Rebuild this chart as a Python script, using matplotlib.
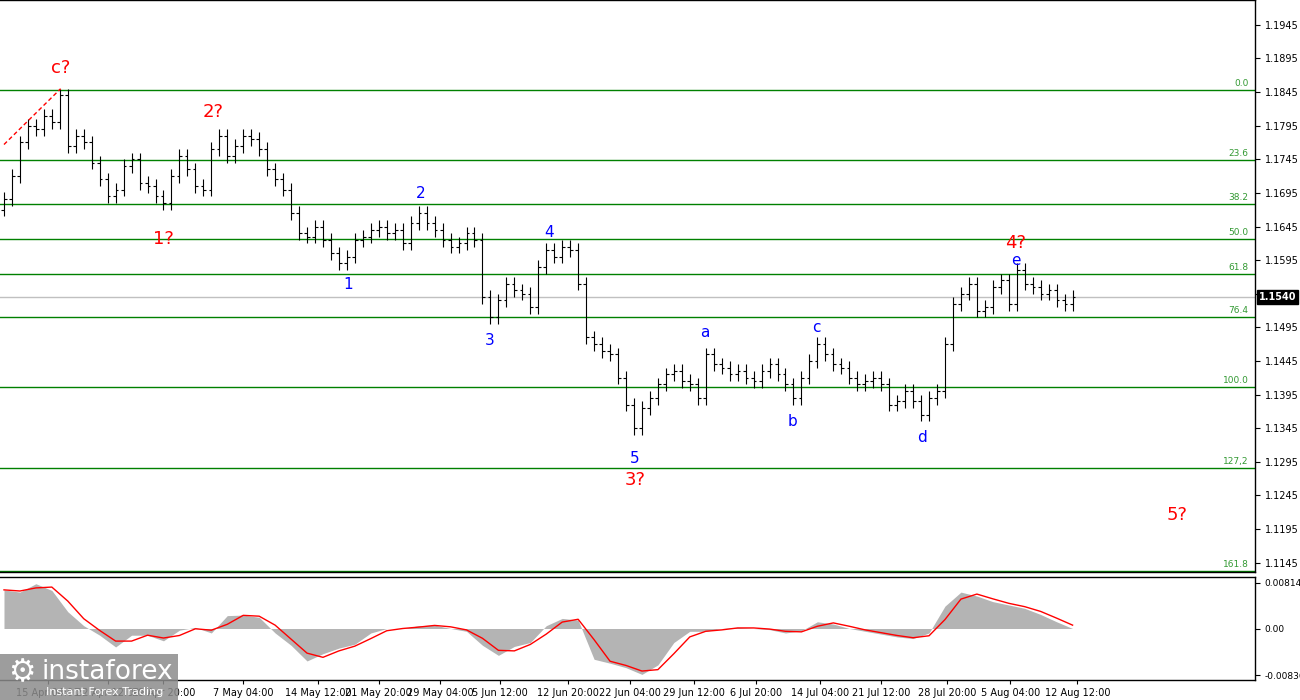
import matplotlib
matplotlib.use("Agg")
import matplotlib.pyplot as plt
import numpy as np
import pandas as pd

closes = [1.1686,1.1720,1.1770,1.1795,1.1790,1.1810,1.1800,1.1840,1.1765,1.1780,1.1770,1.1740,1.1715,1.1690,1.1700,1.1735,
1.1745,1.1710,1.1705,1.1690,1.1680,1.1720,1.1750,1.1730,1.1705,1.1700,1.1760,1.1780,1.1750,1.1765,1.1780,1.1775,
1.1760,1.1730,1.1715,1.1700,1.1665,1.1635,1.1630,1.1645,1.1625,1.1605,1.1590,1.1600,1.1625,1.1630,1.1640,1.1645,
1.1635,1.1640,1.1620,1.1650,1.1665,1.1650,1.1640,1.1625,1.1615,1.1620,1.1635,1.1625,1.1540,1.1510,1.1535,1.1560,
1.1550,1.1545,1.1525,1.1585,1.1610,1.1600,1.1615,1.1610,1.1560,1.1480,1.1470,1.1460,1.1455,1.1420,1.1380,1.1345,
1.1375,1.1390,1.1410,1.1425,1.1430,1.1415,1.1410,1.1390,1.1455,1.1440,1.1435,1.1425,1.1430,1.1420,1.1415,1.1430,
1.1440,1.1425,1.1410,1.1390,1.1420,1.1445,1.1470,1.1455,1.1440,1.1435,1.1420,1.1410,1.1415,1.1420,1.1410,1.1380,
1.1385,1.1400,1.1385,1.1365,1.1390,1.1400,1.1470,1.1530,1.1545,1.1560,1.1520,1.1525,1.1555,1.1565,1.1530,1.1580,
1.1560,1.1555,1.1545,1.1550,1.1535,1.1530,1.1540]
opens = [1.1670] + closes[:-1]
wick = 0.0010

hist = [0.0069,0.0065,0.0080,0.0068,0.0030,0.0005,-0.0012,-0.0033,-0.0012,-0.0012,-0.0022,-0.0003,0.0002,-0.0008,0.0023,0.0024,
0.0020,-0.0008,-0.0030,-0.0058,-0.0045,-0.0035,-0.0028,-0.0008,0.0000,0.0000,0.0005,0.0006,0.0000,-0.0005,-0.0030,-0.0048,
-0.0032,-0.0025,0.0005,0.0018,0.0015,-0.0055,-0.0062,-0.0070,-0.0082,-0.0065,-0.0025,-0.0005,-0.0005,0.0000,0.0002,0.0000,
-0.0002,-0.0008,-0.0004,0.0012,0.0008,0.0000,-0.0005,-0.0010,-0.0015,-0.0018,-0.0008,0.0040,0.0065,0.0058,0.0048,0.0042,
0.0036,0.0025,0.0012,0.0000]

fib_levels = ["0.0","23.6","38.2","50.0","61.8","76.4","100.0","127,2","161.8"]
fib_ratios = [0.0,0.236,0.382,0.5,0.618,0.764,1.0,1.272,1.618]
fib_top, fib_bottom = 1.1848, 1.1406
current = 1.1540

price_ticks = [1.1945,1.1895,1.1845,1.1795,1.1745,1.1695,1.1645,1.1595,1.1545,1.1495,1.1445,1.1395,1.1345,1.1295,1.1245,1.1195,1.1145]
date_labels = ["15 Apr 04:00","22 Apr 12:00","29 Apr 20:00","7 May 04:00","14 May 12:00","21 May 20:00","29 May 04:00","5 Jun 12:00",
"12 Jun 20:00","22 Jun 04:00","29 Jun 12:00","6 Jul 20:00","14 Jul 04:00","21 Jul 12:00","28 Jul 20:00","5 Aug 04:00","12 Aug 12:00"]
date_pos = [5.5,13.0,20.0,30.0,39.4,47.0,54.7,62.2,70.7,78.5,86.5,94.3,102.3,110.0,118.3,126.2,134.6]

red_labels = [("c?",7.1,1.1881),("2?",26.2,1.1816),("1?",20.0,1.1626),("3?",79.2,1.1268),("4?",126.9,1.1620),("5?",147.1,1.1216)]
blue_labels = [("1",43.1,1.1559),("2",52.2,1.1694),("3",60.9,1.1475),("4",68.4,1.1636),("5",79.1,1.1300),
               ("a",87.9,1.1487),("b",98.9,1.1355),("c",101.9,1.1495),("d",115.1,1.1331),("e",126.9,1.1594)]

fig = plt.figure(figsize=(13,7), dpi=100)
W = 1255/1300
ax = fig.add_axes([0, 1-572/700, W, 572/700])
ax2 = fig.add_axes([0, 20/700, W, 103/700])
xmax = 1255/8

n = len(closes)
idx = np.arange(n)
o = np.array(opens); c = np.array(closes)
hi = np.maximum(o, c) + wick; lo = np.minimum(o, c) - wick
ax.vlines(idx, lo, hi, color="black", lw=0.8)
ax.hlines(o, idx-0.35, idx, color="black", lw=0.8)
ax.hlines(c, idx, idx+0.35, color="black", lw=0.8)

for lab, r in zip(fib_levels, fib_ratios):
    lvl = fib_top - r*(fib_top-fib_bottom)
    ax.axhline(lvl, color="#008000", lw=1.0, zorder=1)
    ax.text(xmax-0.8, lvl+0.0003, lab, color="#339933", fontsize=6.5, ha="right", va="bottom")
ax.axhline(current, color="#c0c0c0", lw=1.0, zorder=0)
ax.plot([0, 7.1], [1.1767, 1.1850], color="red", lw=1, ls=(0,(3,2)))

for t, x, y in red_labels:
    ax.text(x, y, t, color="red", fontsize=13, ha="center", va="center")
for t, x, y in blue_labels:
    ax.text(x, y, t, color="blue", fontsize=11, ha="center", va="center")

ax.set_xlim(-0.5, xmax)
ax.set_ylim(1.1131, 1.1982)
ax.yaxis.tick_right()
ax.set_yticks(price_ticks)
ax.set_yticklabels([f"{v:.4f}" for v in price_ticks], fontsize=7)
ax.set_xticks([])
ax.text(1.003, current, f"{current:.4f}", transform=ax.get_yaxis_transform(), fontsize=7,
        color="white", va="center", ha="left", fontweight="bold",
        bbox=dict(boxstyle="square,pad=0.2", fc="black", ec="black"), zorder=10)

hx = np.arange(len(hist)) * 2.0
hs = pd.Series(hist)
ax2.fill_between(hx, 0, hist, color="#b4b4b4", lw=0)
sig = hs.rolling(2, min_periods=1).mean()
ax2.plot(hx, sig, color="red", lw=1)
ax2.set_xlim(-0.5, xmax)
ax2.set_ylim(-0.0092, 0.0092)
ax2.yaxis.tick_right()
ax2.set_yticks([0.00814, 0.0, -0.00836])
ax2.set_yticklabels(["0.00814", "0.00", "-0.00836"], fontsize=6.5)
ax2.set_xticks(date_pos)
ax2.set_xticklabels(date_labels, fontsize=7)
ax2.tick_params(axis="x", length=3, pad=3)

for a in (ax, ax2):
    for s in a.spines.values():
        s.set_linewidth(1.0)
    a.spines["left"].set_visible(False)

fig.patches.append(plt.Rectangle((0, 0), 178/1300, 46/700, transform=fig.transFigure, fc="#8c8c8c", ec="none", alpha=0.85, zorder=5))
fig.text(0.032, 28/700, "instaforex", color="white", fontsize=19, va="center", zorder=6)
fig.text(0.035, 8/700, "Instant Forex Trading", color="white", fontsize=8, va="center", zorder=6)
fig.text(0.006, 27/700, "⚙", color="white", fontsize=22, va="center", zorder=6)

fig.savefig("out.png", dpi=100)
